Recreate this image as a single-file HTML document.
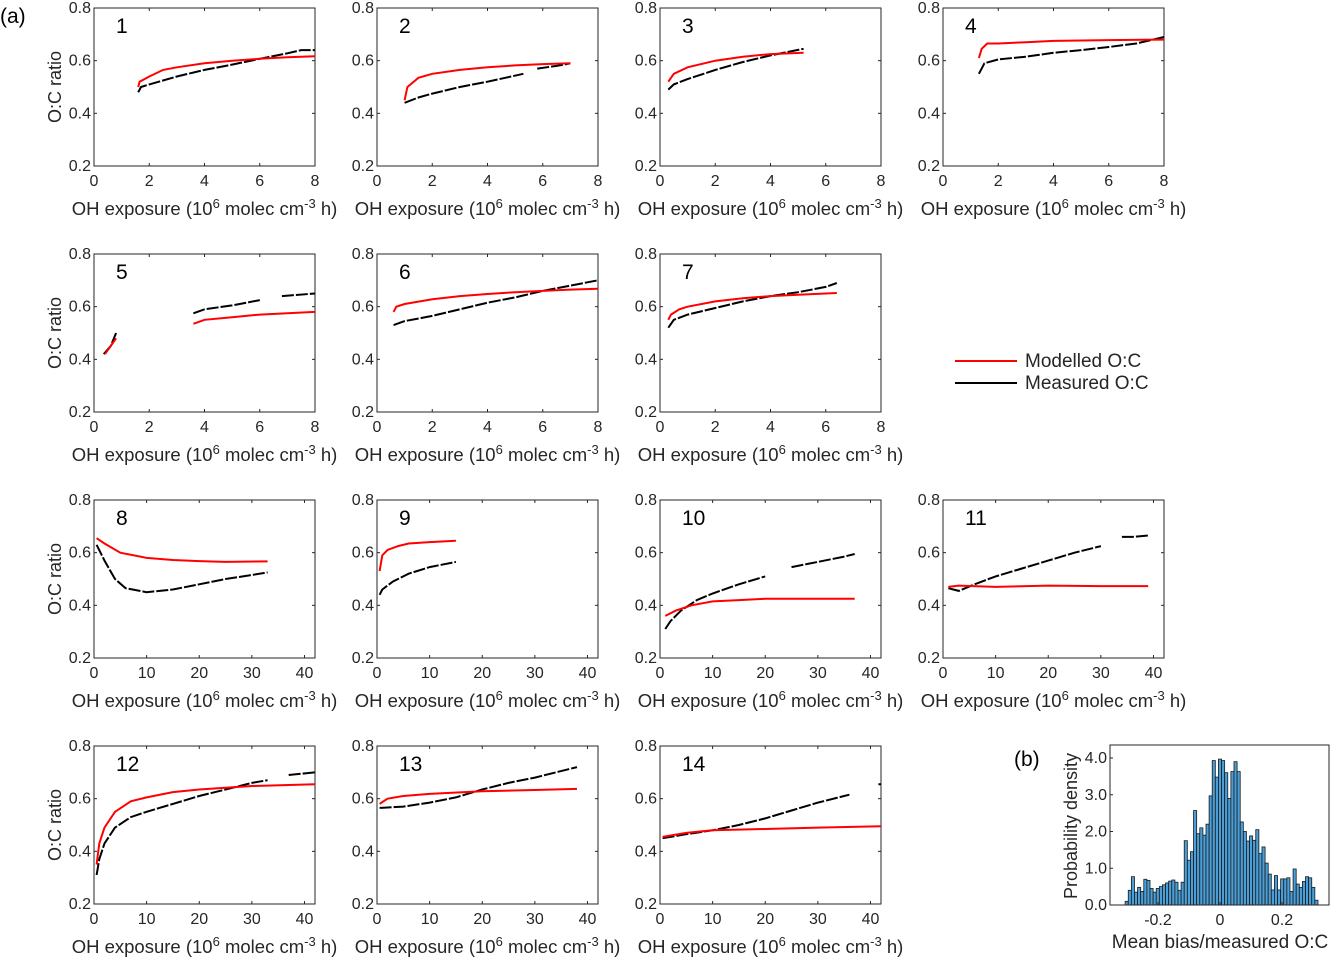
<!DOCTYPE html>
<html><head><meta charset="utf-8"><style>
body{margin:0;background:#fff;}
svg{display:block;font-family:"Liberation Sans",sans-serif;}
</style></head><body>
<svg id="chart" width="1332" height="957"></svg>
<script>
const NS="http://www.w3.org/2000/svg";
const svg=document.getElementById('chart');
// ---- data ----
const panelIds=[1,2,3,4,5,6,7,8,9,10,11,12,13,14];
const panelCol=[0,1,2,3,0,1,2,0,1,2,3,0,1,2];
const panelRow=[0,0,0,0,1,1,1,2,2,2,2,3,3,3];
const xTicksSmall=[0,2,4,6,8];
const xTicksLarge=[0,10,20,30,40];
const yTicks=[0.2,0.4,0.6,0.8];
const yTickLabels=["0.2","0.4","0.6","0.8"];
const modelled=[
[[1.6,0.50],[1.65,0.52],[2,0.54],[2.5,0.565],[3,0.575],[4,0.59],[5,0.6],[6,0.607],[7,0.613],[8,0.617]],
[[1.0,0.45],[1.1,0.5],[1.5,0.535],[2,0.55],[3,0.565],[4,0.575],[5,0.582],[6,0.587],[7,0.59]],
[[0.3,0.52],[0.5,0.55],[1,0.575],[2,0.6],[3,0.615],[4,0.625],[5.2,0.63]],
[[1.3,0.61],[1.4,0.645],[1.6,0.665],[2,0.665],[3,0.67],[4,0.675],[6,0.678],[8,0.68]],
[[0.4,0.42],[0.6,0.45],[0.8,0.48],null,[3.6,0.535],[4,0.55],[5,0.56],[6,0.57],[7,0.575],[8,0.58]],
[[0.6,0.58],[0.7,0.6],[1,0.61],[2,0.628],[3,0.64],[4,0.648],[5,0.655],[6,0.66],[7,0.665],[8,0.668]],
[[0.3,0.55],[0.4,0.57],[0.7,0.59],[1,0.6],[2,0.62],[3,0.632],[4,0.64],[5,0.645],[6.4,0.652]],
[[0.5,0.655],[2,0.635],[5,0.6],[10,0.58],[15,0.572],[20,0.568],[25,0.565],[33,0.567]],
[[0.5,0.53],[1,0.59],[2,0.61],[4,0.625],[6,0.635],[10,0.64],[15,0.645]],
[[1,0.36],[3,0.38],[6,0.4],[10,0.415],[15,0.42],[20,0.425],[30,0.425],[37,0.425]],
[[1,0.47],[3,0.475],[10,0.47],[20,0.475],[30,0.473],[39,0.473]],
[[0.5,0.35],[1,0.43],[2,0.49],[4,0.55],[7,0.59],[10,0.605],[15,0.625],[20,0.635],[30,0.648],[42,0.655]],
[[0.5,0.58],[2,0.6],[5,0.61],[10,0.618],[20,0.628],[30,0.633],[38,0.637]],
[[0.5,0.455],[5,0.47],[10,0.48],[20,0.485],[30,0.49],[42,0.495]]
];
const measured=[
[[1.6,0.48],[1.7,0.50],[2,0.51],[3,0.54],[4,0.565],[5,0.585],[6,0.607],[7,0.628],[7.5,0.64],[8,0.64]],
[[1.0,0.44],[1.5,0.46],[2,0.475],[3,0.5],[4,0.52],[5.3,0.55],null,[5.8,0.57],[6.5,0.58],[7,0.59]],
[[0.3,0.49],[0.5,0.51],[1,0.53],[2,0.565],[3,0.595],[4,0.62],[5.2,0.645]],
[[1.3,0.55],[1.5,0.59],[2,0.605],[3,0.615],[4,0.63],[5,0.64],[6,0.652],[7,0.665],[8,0.69]],
[[0.35,0.42],[0.6,0.45],[0.8,0.5],null,[3.6,0.575],[4,0.59],[5,0.605],[6,0.625],null,[6.8,0.64],[8,0.65]],
[[0.6,0.53],[1,0.545],[2,0.565],[3,0.59],[4,0.615],[5,0.635],[6,0.66],[7,0.68],[8,0.7]],
[[0.3,0.52],[0.5,0.55],[1,0.57],[2,0.595],[3,0.62],[4,0.64],[5,0.655],[6,0.675],[6.4,0.69]],
[[0.5,0.63],[2,0.57],[4,0.5],[6,0.465],[10,0.45],[15,0.46],[20,0.48],[25,0.5],[30,0.515],[33,0.525]],
[[0.5,0.44],[1,0.46],[3,0.49],[6,0.52],[10,0.545],[15,0.565]],
[[1,0.31],[2,0.34],[4,0.38],[7,0.42],[10,0.445],[15,0.48],[20,0.51],null,[25,0.545],[30,0.565],[35,0.585],[37,0.595]],
[[1,0.465],[3,0.455],[6,0.48],[10,0.51],[15,0.54],[20,0.57],[25,0.6],[30,0.625],null,[34,0.66],[36,0.66],[39,0.665]],
[[0.5,0.31],[1,0.37],[2,0.43],[4,0.49],[7,0.53],[10,0.55],[15,0.58],[20,0.61],[25,0.635],[30,0.66],[33,0.67],null,[37,0.69],[42,0.7]],
[[0.5,0.565],[5,0.57],[10,0.585],[15,0.605],[20,0.635],[25,0.66],[30,0.68],[38,0.72]],
[[0.5,0.45],[5,0.465],[10,0.48],[15,0.5],[20,0.525],[25,0.555],[30,0.585],[36,0.615],null,[41.5,0.655],[42,0.655]]
];
const histDensity=[0.1,0.4,0.77,0.35,0.48,0.37,0.7,0.67,0.45,0.35,0.45,0.5,0.55,0.6,0.65,0.68,0.62,0.4,0.62,1.75,1.22,1.45,2.57,1.94,2.1,1.9,2.2,2.97,3.93,3.48,3.97,3.93,3.6,2.9,3.63,3.9,3.63,2.26,2.0,1.74,1.88,1.76,2.05,1.4,1.58,1.14,0.84,0.41,0.8,0.41,0.71,0.71,0.74,0.37,0.98,0.57,0.48,0.64,0.77,0.74,0.48,0.13];
const histStart=-0.306, histEnd=0.316;
const histXTicks=[-0.2,0,0.2];
const histXTickLabels=["-0.2","0","0.2"];
const histYTicks=[0,1,2,3,4];
const histYTickLabels=["0.0","1.0","2.0","3.0","4.0"];
// ---- helpers ----
function el(tag,attrs,parent){const e=document.createElementNS(NS,tag);for(const k in attrs)e.setAttribute(k,attrs[k]);(parent||svg).appendChild(e);return e;}
function txt(s,attrs,parent){const t=el('text',attrs,parent);t.textContent=s;return t;}
const colX=[94,377,660,943], rowY=[8,254,500,746], PW=221, PH=158;
const TC="#262626";
for(let i=0;i<panelIds.length;i++){
  const x0=colX[panelCol[i]], y0=rowY[panelRow[i]], big=panelRow[i]>=2;
  const xmax=big?42:8, ticks=big?xTicksLarge:xTicksSmall;
  const sx=v=>x0+v/xmax*PW, sy=v=>y0+PH-(v-0.2)/0.6*PH;
  const g=el('g',{});
  
  
  const box=el('rect',{x:x0,y:y0,width:PW,height:PH,fill:'none',stroke:'#262626','stroke-width':1},g);
  
  ticks.forEach(t=>{
    const px=sx(t);
    el('line',{x1:px,x2:px,y1:y0+PH,y2:y0+PH-3,stroke:TC},g);
    el('line',{x1:px,x2:px,y1:y0,y2:y0+3,stroke:TC},g);
    const l=txt(String(t),{x:px,y:y0+PH+20,'text-anchor':'middle','font-size':16,fill:TC},g);
    
  });
  yTicks.forEach((t,j)=>{
    const py=sy(t);
    el('line',{x1:x0,x2:x0+3,y1:py,y2:py,stroke:TC},g);
    el('line',{x1:x0+PW,x2:x0+PW-3,y1:py,y2:py,stroke:TC},g);
    const l=txt(yTickLabels[j],{x:x0-3,y:py+5,'text-anchor':'end','font-size':16,fill:TC},g);
    
  });
  const num=txt(String(panelIds[i]),{x:x0+22,y:y0+25,'font-size':21,fill:'#000'},g);
  
  const xl=el('text',{x:x0+PW/2,y:y0+PH+49,'text-anchor':'middle','font-size':18.5,fill:TC},g);
  
  xl.innerHTML='OH exposure (10<tspan dy="-7" font-size="13">6</tspan><tspan dy="7"> molec cm</tspan><tspan dy="-7" font-size="13">-3</tspan><tspan dy="7"> h)</tspan>';
  if(panelCol[i]===0){
    const yl=txt('O:C ratio',{x:0,y:0,'text-anchor':'middle','font-size':18,fill:TC,transform:`translate(61,${y0+PH/2}) rotate(-90)`},g);
    
  }
  function path(pts){let d='',m=true;pts.forEach(p=>{if(!p){m=true;return;}d+=(m?'M':'L')+sx(p[0]).toFixed(1)+','+sy(p[1]).toFixed(1);m=false;});return d;}
  const pm=el('path',{d:path(measured[i]),fill:'none',stroke:'#000','stroke-width':2,'stroke-dasharray':'12 2'},g);
  
  const pr=el('path',{d:path(modelled[i]),fill:'none',stroke:'#f00','stroke-width':2},g);
  
}
const lg=el('g',{});

el('line',{x1:955,x2:1017,y1:361,y2:361,stroke:'#f00','stroke-width':2},lg);
txt('Modelled O:C',{x:1025,y:367,'font-size':19,fill:TC},lg);
el('line',{x1:955,x2:1017,y1:383,y2:383,stroke:'#000','stroke-width':2},lg);
txt('Measured O:C',{x:1025,y:389,'font-size':19,fill:TC},lg);
const la=txt('(a)',{x:0,y:23,'font-size':21,fill:'#000'});
const lb=txt('(b)',{x:1014,y:766,'font-size':21,fill:'#000'});
const hx0=1110,hy0=745,hw=219,hh=160;
const hsx=v=>1220+v*310, hsy=v=>905-v*36.75;
const hg=el('g',{});

const bw=(histEnd-histStart)/histDensity.length;
histDensity.forEach((d,k)=>{
  const a=hsx(histStart+k*bw), b=hsx(histStart+(k+1)*bw);
  const r=el('rect',{x:a,y:hsy(d),width:b-a,height:hsy(0)-hsy(d),fill:'#4a9fd8',stroke:'#1a1a1a','stroke-width':0.8},hg);
  
});
el('rect',{x:hx0,y:hy0,width:hw,height:hh,fill:'none',stroke:'#262626'},hg);
histXTicks.forEach((t,j)=>{
  const px=hsx(t);
  el('line',{x1:px,x2:px,y1:hy0+hh,y2:hy0+hh-3,stroke:TC},hg);
  const l=txt(histXTickLabels[j],{x:px,y:hy0+hh+20,'text-anchor':'middle','font-size':16,fill:TC},hg);
  
});
histYTicks.forEach((t,j)=>{
  const py=hsy(t);
  el('line',{x1:hx0,x2:hx0+3,y1:py,y2:py,stroke:TC},hg);
  const l=txt(histYTickLabels[j],{x:hx0-3,y:py+5,'text-anchor':'end','font-size':16,fill:TC},hg);
  
});
const hxl=txt('Mean bias/measured O:C',{x:1220,y:948,'text-anchor':'middle','font-size':19,fill:TC},hg);

const hyl=txt('Probability density',{x:0,y:0,'text-anchor':'middle','font-size':18,fill:TC,transform:'translate(1077,826) rotate(-90)'},hg);

</script>
</body></html>
